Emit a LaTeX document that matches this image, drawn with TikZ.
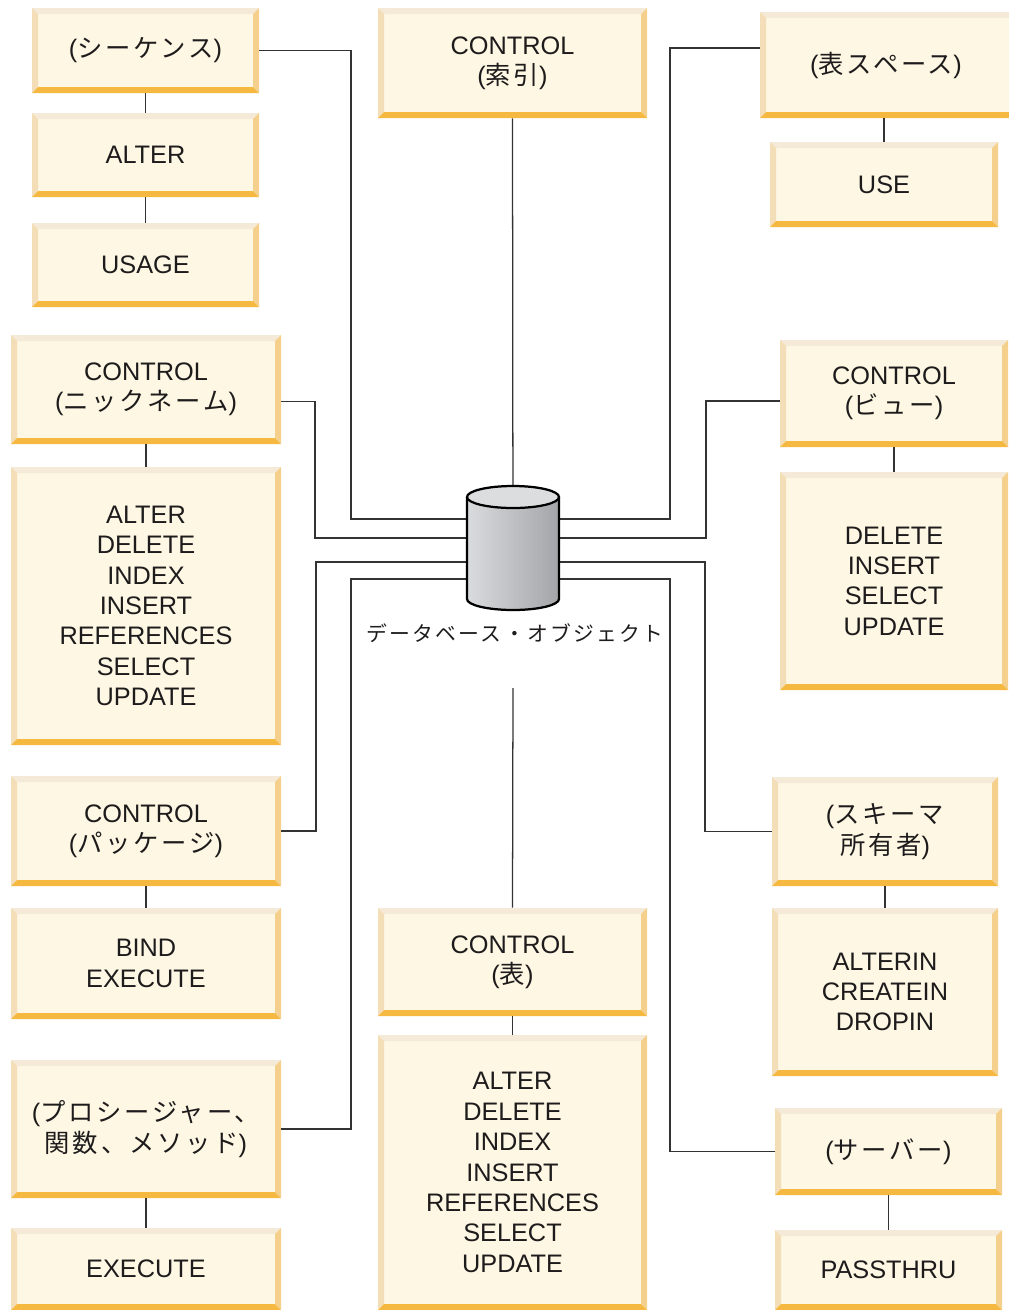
\documentclass[tikz,border=0pt]{standalone}
\usepackage{fontspec}
\setmainfont{Liberation Sans}
\newfontfamily\jpfont[LetterSpace=11]{Noto Sans CJK JP}
\definecolor{boxFill}{HTML}{FDF7E3}
\definecolor{bevelTop}{HTML}{F5EAD7}
\definecolor{bevelLeft}{HTML}{F3DEB7}
\definecolor{bevelRight}{HTML}{F5CF8C}
\definecolor{bevelBottom}{HTML}{F5B942}
\definecolor{textColor}{HTML}{1E1B1C}
\definecolor{linkColor}{HTML}{333333}
\definecolor{cylLeft}{HTML}{DADBDD}
\definecolor{cylRight}{HTML}{A4A5A8}
\definecolor{cylTop}{HTML}{DCDDDF}
\newcommand{\bev}{0.15cm}
\newcommand{\pxUnit}{0.025cm}
\newcommand{\boxFont}{\fontsize{18}{21.6}\selectfont}
\newcommand{\ja}[1]{{\jpfont #1}}
\tikzstyle{privbox} = [rectangle, inner sep=0pt, align=center, fill=boxFill, text=textColor, font=\boxFont,
  path picture={
    \coordinate (nw) at (path picture bounding box.north west);
    \coordinate (ne) at (path picture bounding box.north east);
    \coordinate (sw) at (path picture bounding box.south west);
    \coordinate (se) at (path picture bounding box.south east);
    \fill [bevelTop] (nw) -- (ne) -- ([shift={(-\bev,-\bev)}]ne) -- ([shift={(\bev,-\bev)}]nw) -- cycle;
    \fill [bevelLeft] (nw) -- ([shift={(\bev,-\bev)}]nw) -- ([shift={(\bev,\bev)}]sw) -- (sw) -- cycle;
    \fill [bevelRight] (ne) -- (se) -- ([shift={(-\bev,\bev)}]se) -- ([shift={(-\bev,-\bev)}]ne) -- cycle;
    \fill [bevelBottom] (sw) -- (se) -- ([shift={(-\bev,\bev)}]se) -- ([shift={(\bev,\bev)}]sw) -- cycle;
  }]
\tikzstyle{link} = [draw=linkColor, line width=0.9pt]
\tikzstyle{cylEdge} = [draw=black, line width=1.6pt]
\tikzstyle{dbText} = [font=\jpfont\fontsize{14.8}{20}\selectfont, text=textColor]
\newcommand{\privBox}[6]{\node [privbox, minimum width={(#4-#2)*\pxUnit}, minimum height={(#5-#3)*\pxUnit}] (#1) at ({(#2+#4)/2}, {(#3+#5)/2}) {#6};}

\begin{document}
\begin{tikzpicture}[x=0.025cm, y=-0.025cm]
  \useasboundingbox (0,0) rectangle (1008,1310);
  % left column
  \privBox{seq}{32}{8}{259}{93}{(\ja{シーケンス})}
  \privBox{seqAlter}{32}{113}{259}{197}{ALTER}
  \privBox{seqUsage}{32}{223}{259}{307}{USAGE}
  \privBox{nick}{11}{335}{281}{444}{CONTROL\\(\ja{ニックネーム})}
  \privBox{nickPriv}{11}{467}{281}{745}{ALTER\\DELETE\\INDEX\\INSERT\\REFERENCES\\SELECT\\UPDATE}
  \privBox{pkg}{11}{776}{281}{886}{CONTROL\\(\ja{パッケージ})}
  \privBox{pkgPriv}{11}{908}{281}{1019}{BIND\\EXECUTE}
  \privBox{proc}{11}{1060}{281}{1198}{(\ja{プロシージャー、}\\\ja{関数、メソッド})}
  \privBox{procPriv}{11}{1228}{281}{1310}{EXECUTE}
  % center column
  \privBox{idx}{378}{8}{647}{118}{CONTROL\\(\ja{索引})}
  \privBox{tbl}{378}{908}{647}{1016}{CONTROL\\(\ja{表})}
  \privBox{tblPriv}{378}{1035}{647}{1310}{ALTER\\DELETE\\INDEX\\INSERT\\REFERENCES\\SELECT\\UPDATE}
  % right column
  \privBox{ts}{760}{12}{1024}{118}{\hspace*{-0.3cm}(\ja{表スペース})}
  \privBox{tsUse}{770}{142}{998}{227}{USE}
  \privBox{view}{780}{340}{1008}{447}{CONTROL\\(\ja{ビュー})}
  \privBox{viewPriv}{780}{472}{1008}{690}{DELETE\\INSERT\\SELECT\\UPDATE}
  \privBox{schema}{772}{777}{998}{886}{(\ja{スキーマ}\\\ja{所有者})}
  \privBox{schemaPriv}{772}{908}{998}{1076}{ALTERIN\\CREATEIN\\DROPIN}
  \privBox{server}{775}{1108}{1002}{1195}{(\ja{サーバー})}
  \privBox{serverPriv}{775}{1230}{1002}{1310}{PASSTHRU}
  % stacks
  \foreach \upper/\lower in {seq/seqAlter, seqAlter/seqUsage, nick/nickPriv, pkg/pkgPriv, proc/procPriv,
      tbl/tblPriv, ts/tsUse, view/viewPriv, schema/schemaPriv, server/serverPriv}
    \draw [link] (\lower.north) -- (\lower.north |- \upper.south);
  % links to the database
  \coordinate (db) at (513,553);
  \coordinate (tblEnd) at (513,688);
  \draw [link] (seq.east) -| (351,519) -- (db |- 0,519);
  \draw [link] ([yshift=-0.3cm]nick.east) -| (315,538) -- (db |- 0,538);
  \draw [link] (pkg.east) -| (316,562) -- (db |- 0,562);
  \draw [link] (proc.east) -| (351,579) -- (db |- 0,579);
  \draw [link] ([yshift=0.425cm]ts.west) -| (670,519) -- (db |- 0,519);
  \draw [link] ([yshift=-0.19cm]view.west) -| (706,538) -- (db |- 0,538);
  \draw [link] (schema.west) -| (705,562) -- (db |- 0,562);
  \draw [link] (server.west) -| (670,579) -- (db |- 0,579);
  \draw [link] (idx.south) -- (db);
  \draw [link] (tblEnd) -- (tbl.north);
  % database cylinder
  \begin{scope}[shift={(db)}, x=0.025cm, y=0.025cm]
    \shade [left color=cylLeft, right color=cylRight] (-46,56) -- (-46,-46) arc [start angle=180, end angle=360, x radius=1.15cm, y radius=0.275cm] -- (46,56) -- cycle;
    \fill [cylTop] (0,56) ellipse [x radius=1.15cm, y radius=0.275cm];
    \draw [white, line width=0.8pt] (-45,56) arc [start angle=180, end angle=360, x radius=1.125cm, y radius=0.26cm];
    \draw [cylEdge] (-46,56) -- (-46,-46) arc [start angle=180, end angle=360, x radius=1.15cm, y radius=0.275cm] -- (46,56);
    \draw [cylEdge] (0,56) ellipse [x radius=1.15cm, y radius=0.275cm];
  \end{scope}
  \node [dbText] (dbLabel) at (515,633) {データベース・オブジェクト};
\end{tikzpicture}
\end{document}
